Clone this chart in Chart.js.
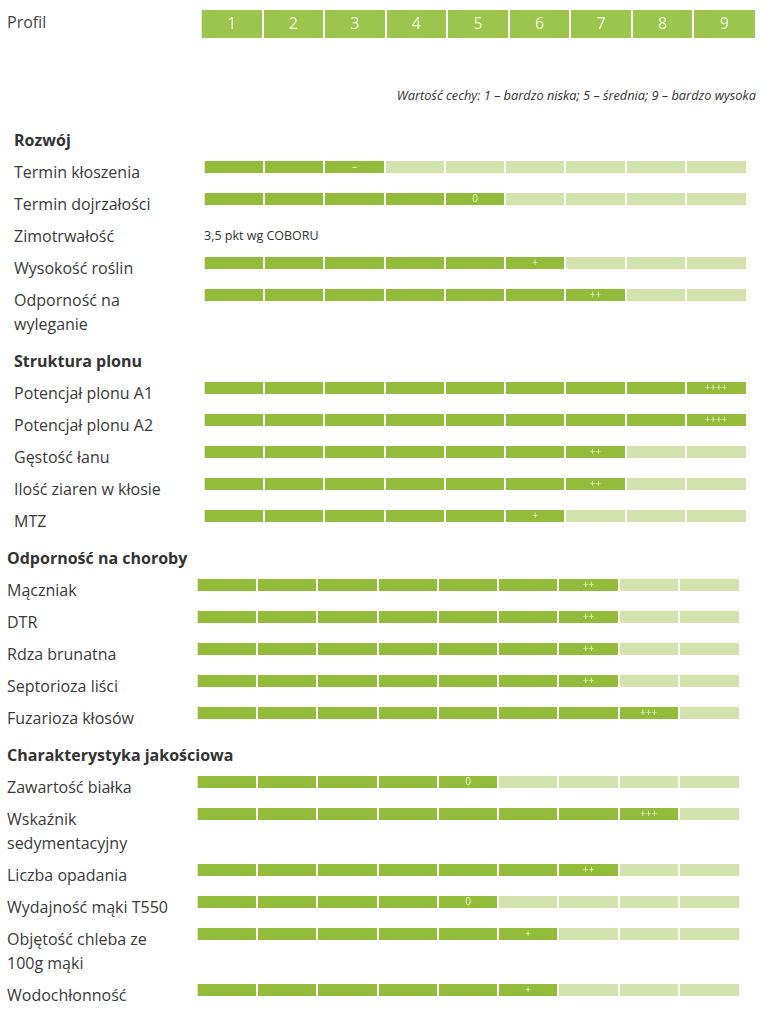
<!DOCTYPE html>
<html lang="pl">
<head>
<meta charset="utf-8">
<title>Profil odmiany</title>
<script src="https://cdn.jsdelivr.net/npm/chart.js@4.4.1/dist/chart.umd.min.js"></script>
<style>
  html, body { margin: 0; padding: 0; background: #fff; }
  body { width: 760px; height: 1015px; overflow: hidden; font-family: "Open Sans", sans-serif; color: #333; }
  .head { display: flex; margin-top: 10px; height: 28px; }
  .head .label { width: 194px; padding-left: 7px; font-size: 16px; line-height: 24px; color: #444; }
  .head .cells { position: relative; width: 554px; height: 28px; }
  .legend { margin-top: 49px; padding-right: 4px; text-align: right; font-size: 12.8px; line-height: 17px; font-style: italic; color: #333; }
  .section { padding-left: 14px; }
  .section.shifted { padding-left: 7px; }
  .section h3 { margin: 5px 0 8px; font-size: 16px; line-height: 24px; font-weight: 700; color: #333; }
  .section:first-of-type h3 { margin-top: 24px; }
  .row { display: flex; }
  .row .label { width: 165px; padding-right: 25px; padding-bottom: 8px; font-size: 16px; line-height: 24px; color: #3a3a3a; }
  .row .bar { position: relative; width: 542px; height: 12px; margin-top: 1px; }
  .row .note { font-size: 12.5px; line-height: 24px; color: #333; }
</style>
</head>
<body>
<div class="head">
  <div class="label">Profil</div>
  <div class="cells"><canvas id="profileHead"></canvas></div>
</div>
<div class="legend" id="scaleNote"></div>
<div id="sections"></div>

<script>
// skala 1-9
const profileCells = ['1', '2', '3', '4', '5', '6', '7', '8', '9'];
const scaleNote = 'Wartość cechy: 1 – bardzo niska; 5 – średnia; 9 – bardzo wysoka';

const sectionTitles = ['Rozwój', 'Struktura plonu', 'Odporność na choroby', 'Charakterystyka jakościowa'];

// Rozwój
const rozwojTraits = ['Termin kłoszenia', 'Termin dojrzałości', 'Zimotrwałość', 'Wysokość roślin', 'Odporność na wyleganie'];
const rozwojScores = [3, 5, null, 6, 7];
const rozwojMarks = ['–', '0', '', '+', '++'];
const rozwojNotes = ['', '', '3,5 pkt wg COBORU', '', ''];

// Struktura plonu
const plonTraits = ['Potencjał plonu A1', 'Potencjał plonu A2', 'Gęstość łanu', 'Ilość ziaren w kłosie', 'MTZ'];
const plonScores = [9, 9, 7, 7, 6];
const plonMarks = ['++++', '++++', '++', '++', '+'];

// Odporność na choroby
const chorobyTraits = ['Mączniak', 'DTR', 'Rdza brunatna', 'Septorioza liści', 'Fuzarioza kłosów'];
const chorobyScores = [7, 7, 7, 7, 8];
const chorobyMarks = ['++', '++', '++', '++', '+++'];

// Charakterystyka jakościowa
const jakoscTraits = ['Zawartość białka', 'Wskaźnik sedymentacyjny', 'Liczba opadania', 'Wydajność mąki T550', 'Objętość chleba ze 100g mąki', 'Wodochłonność'];
const jakoscScores = [5, 8, 7, 5, 6, 6];
const jakoscMarks = ['0', '+++', '++', '0', '+', '+'];

const DARK = '#94bc3b';
const LIGHT = '#d3e3ad';
const HEAD = '#9cc54d';

// napisy w srodku komorek
const cellText = {
    id: 'cellText',
    afterDraw(chart, args, opts) {
        const x = chart.scales.x;
        const area = chart.chartArea;
        const ctx = chart.ctx;
        ctx.save();
        ctx.font = opts.font;
        ctx.fillStyle = opts.color;
        ctx.textAlign = 'center';
        ctx.textBaseline = 'middle';
        (opts.items || []).forEach(item => {
            ctx.fillText(item.text, x.getPixelForValue(item.at + 0.5), (area.top + area.bottom) / 2 + opts.shift);
        });
        ctx.restore();
    }
};

function cellScale() {
    return {
        type: 'linear', min: 0, max: 9,
        ticks: { display: false, stepSize: 1 },
        grid: {
            drawTicks: false,
            lineWidth: 2,
            z: 1,  // przerwy miedzy komorkami nad slupkami
            color: c => (c.tick && c.tick.value > 0 && c.tick.value < 9) ? '#ffffff' : 'rgba(0,0,0,0)'
        },
        border: { display: false }
    };
}

function baseOptions(items, font, color, shift) {
    return {
        indexAxis: 'y',
        responsive: true,
        maintainAspectRatio: false,
        animation: false,
        events: [],
        layout: { padding: 0, autoPadding: false },
        plugins: {
            legend: { display: false },
            tooltip: { enabled: false },
            cellText: { items: items, font: font, color: color, shift: shift }
        },
        scales: {
            x: Object.assign(cellScale(), { stacked: true }),
            y: { display: false, stacked: true }
        }
    };
}

// naglowek 1..9
new Chart(document.getElementById('profileHead'), {
    type: 'bar',
    data: {
        labels: ['Profil'],
        datasets: [{ data: [profileCells.length], backgroundColor: HEAD, barPercentage: 1, categoryPercentage: 1 }]
    },
    options: baseOptions(profileCells.map((t, i) => ({ at: i, text: t })), '16px "Open Sans"', '#eef6dd', 0.5),
    plugins: [cellText]
});

document.getElementById('scaleNote').textContent = scaleNote;

function traitChart(canvas, score, mark) {
    new Chart(canvas, {
        type: 'bar',
        data: {
            labels: [''],
            datasets: [
                { data: [score], backgroundColor: DARK, barPercentage: 1, categoryPercentage: 1 },
                { data: [9 - score], backgroundColor: LIGHT, barPercentage: 1, categoryPercentage: 1 }
            ]
        },
        options: baseOptions(mark ? [{ at: score - 1, text: mark }] : [], '10px "Open Sans"', '#eef7dc', 0),
        plugins: [cellText]
    });
}

function addSection(title, traits, scores, marks, notes, shifted) {
    const sec = document.createElement('div');
    sec.className = 'section' + (shifted ? ' shifted' : '');
    const h = document.createElement('h3');
    h.textContent = title;
    sec.appendChild(h);
    traits.forEach((name, i) => {
        const row = document.createElement('div');
        row.className = 'row';
        const label = document.createElement('div');
        label.className = 'label';
        label.textContent = name;
        row.appendChild(label);
        if (scores[i] == null) {
            const note = document.createElement('div');
            note.className = 'note';
            note.textContent = notes ? notes[i] : '';
            row.appendChild(note);
            sec.appendChild(row);
            return;
        }
        const box = document.createElement('div');
        box.className = 'bar';
        const cv = document.createElement('canvas');
        box.appendChild(cv);
        row.appendChild(box);
        sec.appendChild(row);
        traitChart(cv, scores[i], marks[i]);
    });
    document.getElementById('sections').appendChild(sec);
}

addSection(sectionTitles[0], rozwojTraits, rozwojScores, rozwojMarks, rozwojNotes, false);
addSection(sectionTitles[1], plonTraits, plonScores, plonMarks, null, false);
addSection(sectionTitles[2], chorobyTraits, chorobyScores, chorobyMarks, null, true);
addSection(sectionTitles[3], jakoscTraits, jakoscScores, jakoscMarks, null, true);
</script>
</body>
</html>
